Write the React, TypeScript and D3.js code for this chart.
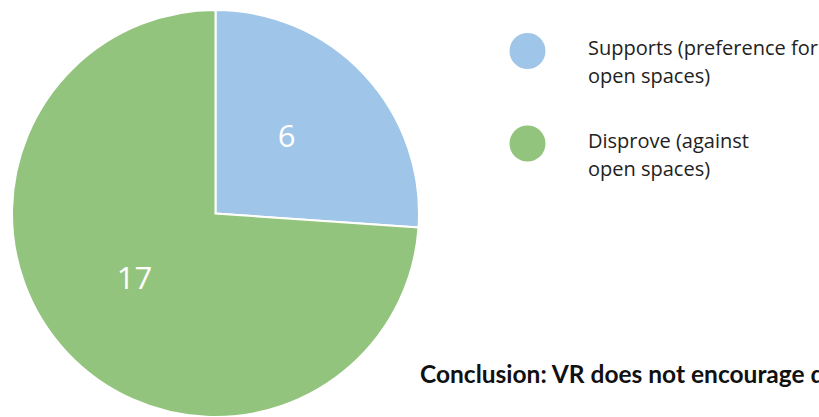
import React from "react";
import * as d3 from "d3";

const categories = ["Supports (preference for open spaces)", "Disprove (against open spaces)"];
const values = [6, 17];
const legendLines = [["Supports (preference for", "open spaces)"], ["Disprove (against", "open spaces)"]];
const colors = ["#9fc5e8", "#93c47d"];
const conclusion = "Conclusion: VR does not encourage densification";

export default function App() {
  const W = 819, H = 417;
  const cx = 215.5, cy = 213.5, r = 203.5;
  const pie = d3.pie<number>().sort(null).value((d) => d)(values);
  const arc = d3.arc<d3.PieArcDatum<number>>().innerRadius(0).outerRadius(r);
  const labelArc = d3.arc<d3.PieArcDatum<number>>().innerRadius(208).outerRadius(0);
  return (
    <svg width={W} height={H} style={{ position: "absolute", left: 0, top: 0, background: "#fff" }}>
      <g transform={`translate(${cx},${cy})`}>
        {pie.map((p, i) => (
          <path key={i} d={arc(p) || ""} fill={colors[i]} stroke="#fff" strokeWidth={2} />
        ))}
        {pie.map((p, i) => {
          const [x, y] = labelArc.centroid(p);
          return (
            <text key={"l" + i} x={x} y={y} dx={-5} dy="0.13em" textAnchor="middle" fill="#fff"
              fontFamily="'Open Sans', sans-serif" fontSize={31}>
              {values[i]}
            </text>
          );
        })}
      </g>
      {categories.map((c, i) => (
        <g key={c} transform={`translate(0,${i * 92.5})`}>
          <circle cx={527.5} cy={51} r={18} fill={colors[i]} />
          {legendLines[i].map((t, j) => (
            <text key={j} x={588} y={55 + j * 28} fontFamily="'Open Sans', sans-serif" fontSize={20} fill="#222">
              {t}
            </text>
          ))}
        </g>
      ))}
      <text x={420} y={383} fontFamily="Lato, sans-serif" fontWeight="bold" fontSize={24.5} fill="#111">
        {conclusion}
      </text>
    </svg>
  );
}
